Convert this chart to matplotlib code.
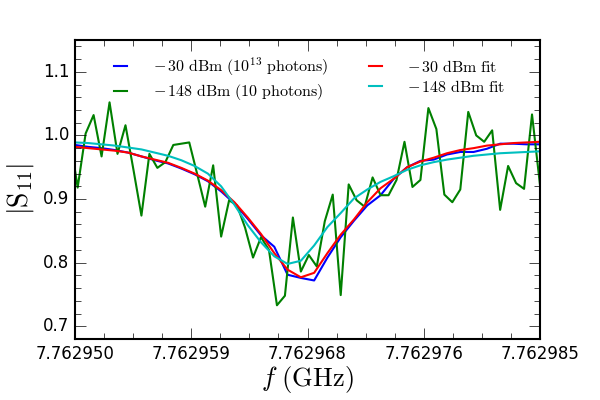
import numpy as np
import matplotlib
matplotlib.use("Agg")
import matplotlib.pyplot as plt
from matplotlib.ticker import AutoMinorLocator, FormatStrFormatter

plt.style.use('classic')
plt.rcParams['mathtext.fontset'] = 'cm'

# -30 dBm sweep and its fit, 1 kHz steps
f_strong = np.linspace(7.762950, 7.762985, 36)
s11_strong = [0.985, 0.982, 0.980, 0.977, 0.973, 0.967, 0.961, 0.956, 0.948, 0.939,
              0.928, 0.912, 0.893, 0.869, 0.843, 0.825, 0.781, 0.776, 0.772, 0.808,
              0.840, 0.866, 0.890, 0.906, 0.932, 0.950, 0.960, 0.962, 0.970, 0.974,
              0.974, 0.979, 0.987, 0.987, 0.986, 0.986]
fit_strong = [0.982, 0.980, 0.978, 0.976, 0.973, 0.967, 0.962, 0.957, 0.949, 0.940,
              0.929, 0.914, 0.895, 0.871, 0.845, 0.815, 0.789, 0.777, 0.784, 0.815,
              0.844, 0.868, 0.895, 0.917, 0.932, 0.950, 0.959, 0.965, 0.972, 0.977,
              0.980, 0.984, 0.986, 0.988, 0.989, 0.990]
fit_weak = [0.989, 0.988, 0.986, 0.984, 0.981, 0.978, 0.973, 0.968, 0.961, 0.952,
            0.940, 0.920, 0.891, 0.859, 0.832, 0.810, 0.798, 0.803, 0.827, 0.856,
            0.878, 0.901, 0.915, 0.927, 0.936, 0.946, 0.953, 0.958, 0.962, 0.965,
            0.968, 0.970, 0.972, 0.973, 0.974, 0.975]

# -148 dBm sweep, 0.6 kHz steps (first point sits just left of the axis)
f_weak = np.linspace(7.7629496, 7.762985, 60)
s11_weak = [1.000, 0.918, 1.003, 1.032, 0.967, 1.052, 0.971, 1.016, 0.946, 0.874,
            0.971, 0.949, 0.958, 0.985, 0.987, 0.989, 0.939, 0.888, 0.953, 0.841,
            0.898, 0.890, 0.855, 0.808, 0.840, 0.820, 0.733, 0.748, 0.871, 0.786,
            0.812, 0.794, 0.865, 0.907, 0.749, 0.923, 0.898, 0.888, 0.934, 0.906,
            0.906, 0.930, 0.990, 0.919, 0.930, 1.043, 1.010, 0.907, 0.895, 0.915,
            1.037, 1.000, 0.990, 1.008, 0.883, 0.952, 0.925, 0.916, 1.033, 0.922]

fig, ax = plt.subplots(figsize=(6, 4), dpi=100)
fig.subplots_adjust(left=0.125, right=0.9, top=0.9, bottom=0.1525)
fig.patch.set_facecolor('white')

ax.plot(f_strong, s11_strong, color='b', lw=1.5, label=r'$-\,30\ \mathrm{dBm}\ (10^{13}\ \mathrm{photons})$')
ax.plot(f_weak, s11_weak, color='g', lw=1.5, label=r'$-\,148\ \mathrm{dBm}\ (10\ \mathrm{photons})$')
ax.plot(f_strong, fit_strong, color='r', lw=1.5, label=r'$-\,30\ \mathrm{dBm\ fit}$')
ax.plot(f_strong, fit_weak, color='c', lw=1.5, label=r'$-\,148\ \mathrm{dBm\ fit}$')

ax.set_xlim(7.762950, 7.762985)
ax.set_ylim(0.68, 1.15)
ax.set_xticks(np.linspace(7.762950, 7.762985, 5))
ax.xaxis.set_major_formatter(FormatStrFormatter('%.6f'))
ax.set_yticks([0.7, 0.8, 0.9, 1.0, 1.1])
ax.xaxis.set_minor_locator(AutoMinorLocator(4))
ax.yaxis.set_minor_locator(AutoMinorLocator(5))
ax.tick_params(which='both', direction='in', top=True, right=True, labelsize=12)
ax.tick_params(which='major', length=8)
ax.tick_params(which='minor', length=4)
for s in ax.spines.values():
    s.set_linewidth(1.5)

ax.set_xlabel(r'$f\ \mathrm{(GHz)}$', fontsize=19, labelpad=1)
ax.set_ylabel(r'$|\mathrm{S}_{11}|$', fontsize=20)

ax.legend(loc='upper center', ncol=2, frameon=False, fontsize=11.5,
          handlelength=1.4, handletextpad=1.3, columnspacing=2.3,
          labelspacing=0.25, borderaxespad=0.6)

fig.savefig('out.png', dpi=100, facecolor='white')
